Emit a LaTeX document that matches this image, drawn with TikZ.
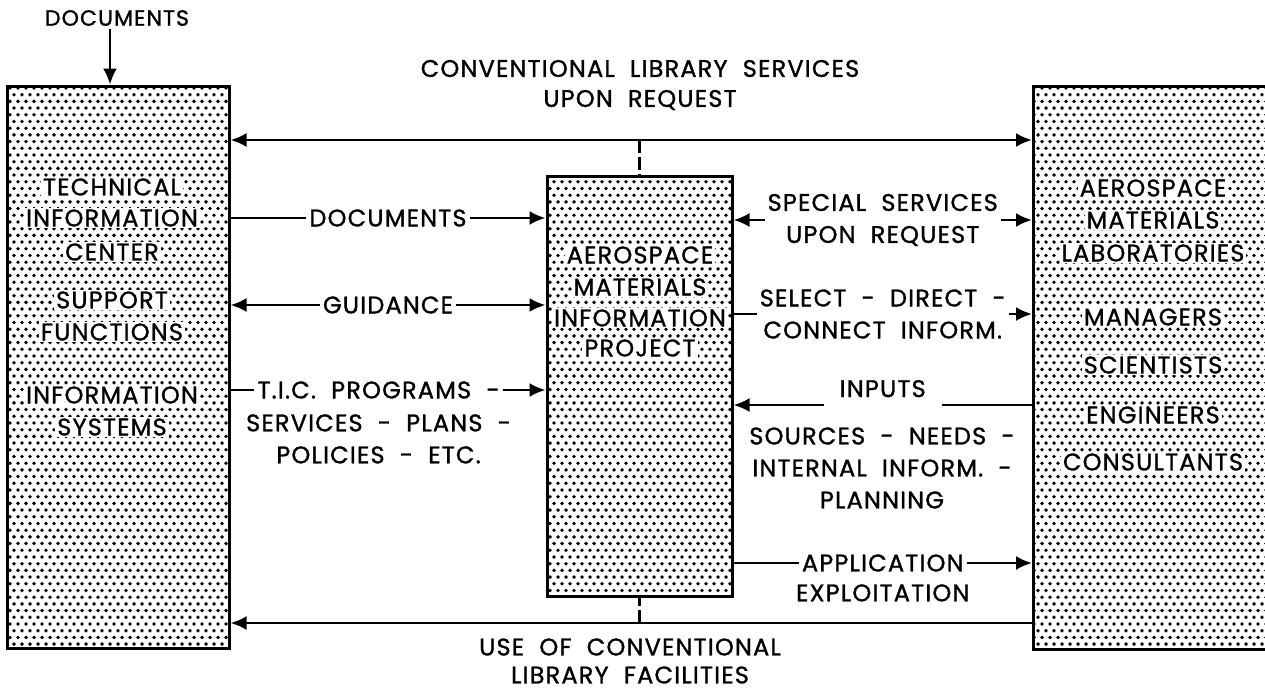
\documentclass[tikz,border=0pt]{standalone}
\usepackage{fontspec}
\setmainfont{Poppins}[WordSpace=2.0, FakeBold=1.2, LetterSpace=5]
\usepackage{tikz}
\usetikzlibrary{
  arrows.meta,
  positioning,
  patterns}

% staggered halftone dots for the boxes
\pgfdeclarepatternformonly{halftone}{\pgfqpoint{-1pt}{-1pt}}{\pgfqpoint{9pt}{14.4pt}}{\pgfqpoint{8pt}{13.4pt}}{
  \pgfpathcircle{\pgfqpoint{2pt}{2pt}}{1.9pt}
  \pgfpathcircle{\pgfqpoint{6pt}{8.7pt}}{1.9pt}
  \pgfusepath{fill}}

\tikzset{block/.style={draw, line width=3pt, pattern=halftone},
         boxtext/.style={fill=white, inner xsep=2pt, inner ysep=1pt},
         flow/.style={line width=2.5pt},
         lab/.style={fill=white, inner xsep=3pt, inner ysep=2pt, align=center},
         >={Latex[length=16pt,width=14pt]}
        }

\begin{document}
\begin{tikzpicture}[x=1pt, y=-1pt, font=\fontsize{24}{32}\selectfont]
\useasboundingbox (0,0) rectangle (1265,693);

% the three boxes
\node[block, minimum width=222pt, minimum height=562pt] (tic) at (118,367) {};
\node[block, minimum width=185pt, minimum height=420pt] (amip) at (639.5,386) {};
\node[block, minimum width=250pt, minimum height=563pt, anchor=north west] (aml) at (1032,85) {};

\node[boxtext] (tic-1) at (112,187) {TECHNICAL};
\node[boxtext] (tic-2) at (112,218) {INFORMATION};
\node[boxtext] (tic-3) at (112,252) {CENTER};
\node[boxtext] (tic-4) at (112,300) {SUPPORT};
\node[boxtext] (tic-5) at (112,332) {FUNCTIONS};
\node[boxtext] (tic-6) at (112,395) {INFORMATION};
\node[boxtext] (tic-7) at (112,427) {SYSTEMS};

\node[boxtext] (amip-1) at (640,255) {AEROSPACE};
\node[boxtext] (amip-2) at (640,287) {MATERIALS};
\node[boxtext] (amip-3) at (640,318) {INFORMATION};
\node[boxtext] (amip-4) at (640,348) {PROJECT};

\node[boxtext] (aml-1) at (1153,188) {AEROSPACE};
\node[boxtext] (aml-2) at (1153,220) {MATERIALS};
\node[boxtext] (aml-3) at (1153,253) {LABORATORIES};
\node[boxtext] (aml-4) at (1153,317) {MANAGERS};
\node[boxtext] (aml-5) at (1153,365) {SCIENTISTS};
\node[boxtext] (aml-6) at (1153,415) {ENGINEERS};
\node[boxtext] (aml-7) at (1153,462) {CONSULTANTS};

% incoming documents
\node[font=\fontsize{22}{26}\selectfont] (docin) at (117,18) {DOCUMENTS};
\draw[flow, ->] (docin.south -| 110,0) -- (tic.north -| 110,0);

% conventional library lines
\coordinate (toprow) at (0,140);
\coordinate (botrow) at (0,623);
\draw[flow, <->] (tic.east |- toprow) -- (aml.west |- toprow);
\draw[flow, <-] (tic.east |- botrow) -- (aml.west |- botrow);
\draw[flow, dash pattern=on 13pt off 4pt] (amip.north |- toprow) -- (amip.north);
\draw[flow, dash pattern=on 13pt off 4pt] (amip.south |- botrow) -- (amip.south);
\node[align=center, font=\fontsize{24}{30}\selectfont] (conv) at (640,85) {CONVENTIONAL LIBRARY SERVICES\\UPON REQUEST};
\node[align=center, inner sep=0pt, font=\fontsize{24}{28}\selectfont] (use) at (630,661) {USE OF CONVENTIONAL\\LIBRARY FACILITIES};

% center to project
\draw[flow, ->] (tic.east |- 0,218) -- node[lab] (docs) {DOCUMENTS} (amip.west |- 0,218);
\draw[flow, <->] (tic.east |- 0,305) -- node[lab] (guide) {GUIDANCE} (amip.west |- 0,305);
\draw[flow, ->] (tic.east |- 0,390) -- node[lab, pos=0.47] (prog) {T.I.C. PROGRAMS -} (amip.west |- 0,390);
\node[align=center, below=9pt of prog] (progmore) {SERVICES - PLANS -\\POLICIES - ETC.};

% project to laboratories
\draw[flow, <->] (amip.east |- 0,220) -- node[lab] (spec) {SPECIAL SERVICES\\UPON REQUEST} (aml.west |- 0,220);
\draw[flow, ->] (amip.east |- 0,314) -- node[lab] (sel) {SELECT - DIRECT -\\CONNECT INFORM.} (aml.west |- 0,314);
\draw[flow, <-] (amip.east |- 0,405) -- node[lab, anchor=base, yshift=8pt, inner xsep=16pt, inner ysep=10pt] (inp) {INPUTS} (aml.west |- 0,405);
\node[align=center] (needs) at (882,468) {SOURCES - NEEDS -\\INTERNAL INFORM. -\\PLANNING};
\draw[flow, ->] (amip.east |- 0,563) -- node[lab] (appl) {APPLICATION} (aml.west |- 0,563);
\node[below=6pt of appl] (expl) {EXPLOITATION};
\end{tikzpicture}
\end{document}
